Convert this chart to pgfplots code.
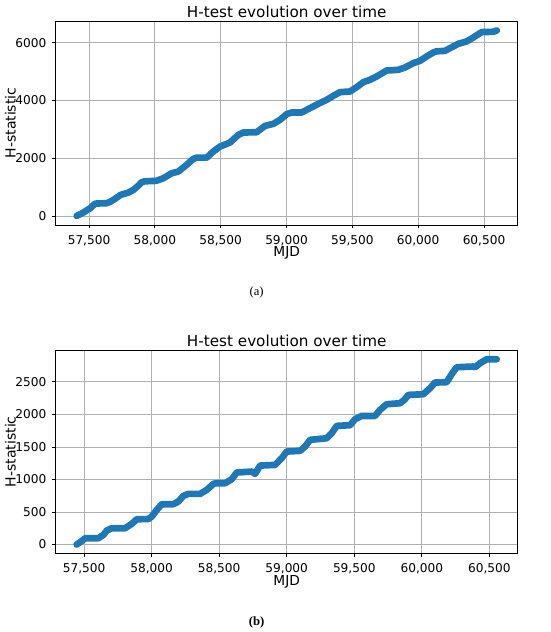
\documentclass[border=0pt]{standalone}
\usepackage{fontspec}
\setmainfont{DejaVu Sans}
\newfontfamily\capfont{Liberation Serif}
\usepackage{pgfplots}
\pgfplotsset{compat=1.18}
\definecolor{mplblue}{HTML}{1F77B4}
\definecolor{gridgray}{HTML}{B0B0B0}
\pgfplotsset{hstyle/.style={
  scale only axis, width=346.5pt,
  axis line style={black, line width=0.6pt},
  grid=major, major grid style={gridgray, line width=0.6pt},
  tick align=outside, major tick length=2.6pt,
  tick style={black, line width=0.6pt},
  xtick pos=left, ytick pos=left,
  scaled x ticks=false, scaled y ticks=false,
  /pgf/number format/assume math mode=true,
  tick label style={font=\fontsize{9.1}{10}\selectfont, inner sep=0pt},
  xticklabel style={anchor=base, yshift=-11.9pt, /pgf/number format/1000 sep={,}},
  yticklabel style={anchor=east, xshift=-4.3pt, /pgf/number format/1000 sep={}},
  xtick={57500,58000,...,60500},
  title style={font=\fontsize{11.4}{13}\selectfont, at={(axis description cs:0.5,1)}, anchor=base, yshift=-3pt, inner sep=0pt},
  xlabel style={font=\fontsize{10.3}{12}\selectfont, at={(axis description cs:0.5,0)}, anchor=base, yshift=-24pt, inner sep=0pt},
  ylabel style={font=\fontsize{10.5}{12}\selectfont, at={(axis description cs:-0.0866,0.5)}, anchor=base, inner sep=0pt},
  title={H-test evolution over time}, xlabel={MJD}, ylabel={H-statistic},
}}
\begin{document}
\begin{tikzpicture}
\useasboundingbox (0,0) rectangle (412.5pt,-474pt);
\begin{axis}[hstyle, at={(41.78pt,-15.75pt)}, anchor=north west, height=153pt,
  xmin=57247, xmax=60756, ymin=-315, ymax=6755, ytick={0,2000,4000,6000}]
\addplot[mplblue, line width=5pt, line join=round, line cap=round] coordinates {
(57406,0) (57457,116) (57508,266) (57545,420) (57560,430) (57634,440)
(57660,490) (57685,555) (57740,728) (57799,809) (57837,900) (57875,1050)
(57900,1168) (57925,1200) (58010,1215) (58065,1306) (58128,1480) (58178,1537)
(58242,1770) (58292,1977) (58318,2020) (58394,2020) (58444,2231) (58495,2404)
(58571,2543) (58634,2809) (58672,2890) (58773,2900) (58837,3121) (58900,3190)
(58950,3329) (59001,3526) (59039,3584) (59115,3584) (59178,3734) (59241,3884)
(59305,4023) (59356,4162) (59406,4289) (59482,4312) (59533,4462) (59584,4636)
(59634,4717) (59685,4832) (59761,5040) (59849,5063) (59900,5144) (59963,5294)
(60014,5375) (60064,5526) (60115,5664) (60140,5705) (60204,5720) (60242,5815)
(60305,5965) (60368,6046) (60419,6185) (60482,6370) (60571,6381) (60597,6427)
};
\end{axis}
\begin{axis}[hstyle, at={(41.78pt,-262.5pt)}, anchor=north west, height=152.5pt,
  xmin=57290, xmax=60710, ymin=-135, ymax=2990, ytick={0,500,...,2500}]
\addplot[mplblue, line width=5pt, line join=round, line cap=round] coordinates {
(57445,0) (57480,50) (57507,97) (57520,97) (57606,97) (57643,149) (57668,215)
(57705,251) (57803,251) (57853,318) (57890,389) (57976,392) (58001,430)
(58038,533) (58075,620) (58161,620) (58198,661) (58235,748) (58272,779)
(58359,779) (58408,840) (58457,932) (58475,943) (58544,943) (58593,1004)
(58630,1107) (58741,1122) (58766,1086) (58803,1214) (58914,1224) (58963,1327)
(59000,1429) (59099,1440) (59136,1506) (59173,1609) (59296,1634) (59333,1711)
(59370,1824) (59469,1834) (59506,1926) (59555,1977) (59654,1977) (59691,2070)
(59740,2157) (59839,2172) (59876,2234) (59900,2300) (60011,2310) (60061,2403)
(60098,2490) (60184,2495) (60221,2618) (60258,2725) (60381,2736) (60395,2725)
(60431,2787) (60481,2848) (60555,2848)
};
\end{axis}
\node[font=\capfont\fontsize{9.5}{11}\selectfont, anchor=base] at (192.5pt,-221.25pt) {(a)};
\node[font=\capfont\bfseries\fontsize{9.5}{11}\selectfont, anchor=base] at (192.5pt,-468.75pt) {(b)};
\end{tikzpicture}
\end{document}
